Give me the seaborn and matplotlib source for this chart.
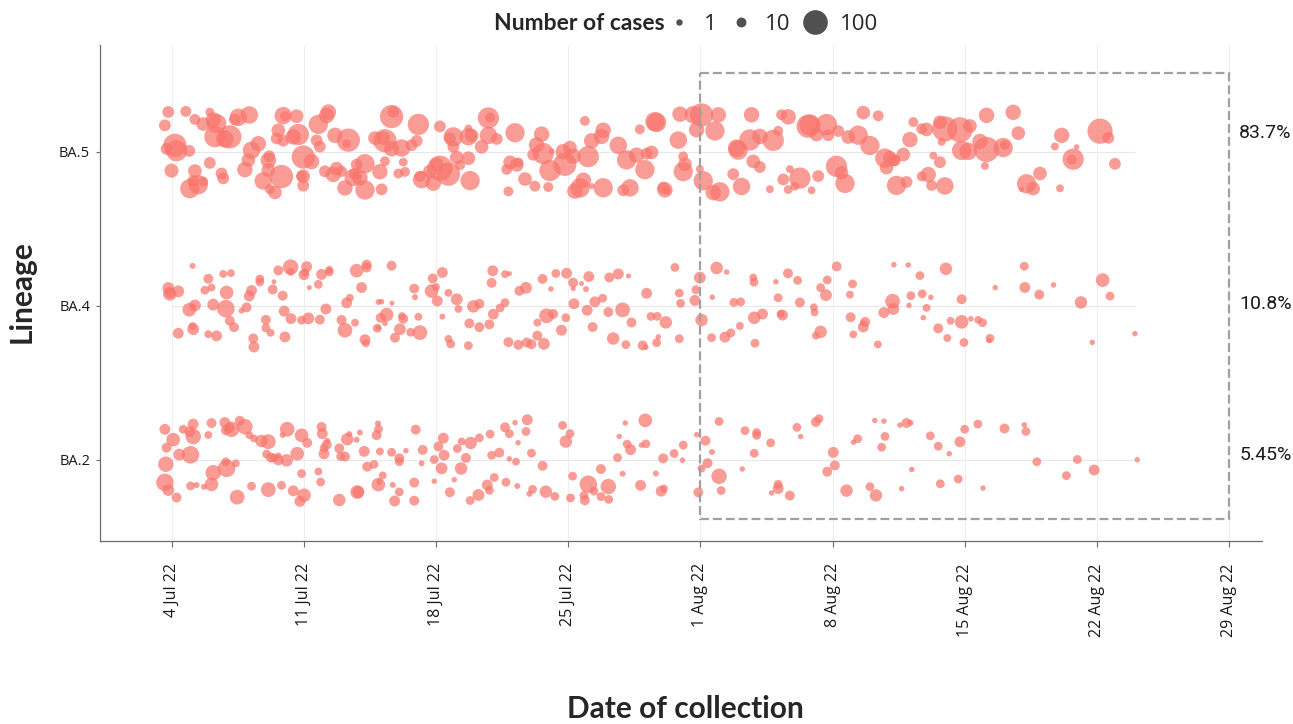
import numpy as np
import pandas as pd
import matplotlib
matplotlib.use("Agg")
import matplotlib.pyplot as plt
import seaborn as sns
from matplotlib.lines import Line2D
from matplotlib.patches import Rectangle

lineages = ["BA.5", "BA.4", "BA.2"]
shares = ["83.7%", "10.8%", "5.45%"]
week_labels = ["4 Jul 22", "11 Jul 22", "18 Jul 22", "25 Jul 22", "1 Aug 22",
               "8 Aug 22", "15 Aug 22", "22 Aug 22", "29 Aug 22"]
legend_cases = [1, 10, 100]
window_start = 28   # 1 Aug 22, in days since 4 Jul 22
window_end = 56     # 29 Aug 22

# collection day (days since 4 Jul 22) and number of cases per point
ba5_days = [-0.37, -0.19, -0.28, -0.02, 0.16, 0.25, 0.74, 0.92, 0.95, 1.13,
            1.22, 1.22, 1.40, 1.66, 1.66, 2.01, 2.01, 2.19, 2.28, 2.37,
            2.63, 2.72, 2.81, 3.07, 3.34, 3.52, 3.87, 4.05, 4.10, 4.22,
            4.58, 4.84, 5.11, 5.11, 5.16, 5.19, 5.46, 5.55, 5.64, 5.81,
            5.90, 5.90, 5.99, 6.43, 6.61, 6.70, 6.87, 6.96, 6.96, 6.96,
            7.40, 7.67, 7.76, 7.84, 8.11, 8.20, 8.29, 8.55, 8.64, 8.73,
            8.99, 9.17, 9.26, 9.35, 9.61, 9.70, 9.79, 9.96, 10.23, 10.23,
            10.76, 11.02, 11.11, 11.20, 11.29, 11.29, 11.64, 11.64, 11.73, 12.00,
            12.17, 12.26, 12.35, 12.70, 12.97, 13.06, 13.14, 13.23, 13.67, 13.85,
            14.03, 14.20, 14.20, 14.65, 14.73, 14.91, 14.91, 15.09, 15.27, 15.71,
            15.71, 15.71, 15.80, 15.88, 16.41, 16.77, 16.77, 16.86, 17.21, 17.74,
            17.83, 17.92, 18.18, 18.27, 18.36, 18.71,
            19.14, 19.23, 19.32, 19.59, 19.67, 19.94, 20.03, 20.11, 20.73, 20.82,
            21.09, 21.26, 21.35, 21.62, 21.80, 21.88, 22.06, 22.24, 22.24, 22.76,
            22.85, 22.85, 23.65, 23.91, 24.09, 24.27, 24.62, 24.79, 25.06, 25.15,
            25.41, 25.59, 25.68, 26.03, 26.12, 26.21, 26.83, 26.92, 27.09, 27.09,
            27.18, 27.62, 27.80, 27.97, 28.06, 28.15, 28.68, 28.77, 28.95, 29.03,
            29.74, 29.92, 30.00, 30.18, 30.62, 30.71, 30.80, 31.15, 31.15, 31.68,
            31.86, 32.12, 32.30, 32.39, 32.65, 32.65, 32.74, 33.00, 33.27, 33.71,
            33.80, 33.89, 34.15, 34.24, 34.68, 34.77, 35.21, 35.30, 35.48, 35.66,
            35.83, 36.36, 36.63, 36.98, 37.42, 37.77, 37.86, 38.04, 38.22,
            38.30, 38.39, 38.75, 38.92, 39.10, 39.28, 39.72, 39.72, 39.98, 40.07,
            40.25, 40.34, 40.69, 40.69, 40.78, 40.95, 40.95, 41.75, 41.84, 42.19,
            42.28, 42.81, 43.07, 43.16, 43.16, 44.04, 44.13, 44.04, 44.57, 44.84,
            45.02, 45.28, 45.63, 45.99, 46.78, 47.05, 47.14, 47.67, 47.75, 47.93,
            49.17, 49.61, 49.96]
ba5_cases = [23, 23, 23, 34, 100, 83, 19, 23, 68, 23,
             32, 19, 68, 15, 32, 23, 11, 42, 83, 68,
             23, 23, 55, 100, 23, 55, 42, 32, 55, 55,
             42, 55, 32, 42, 23, 15, 32, 23, 32, 100,
             55, 23, 15, 42, 32, 83, 19, 23, 32, 100,
             42, 23, 68, 23, 23, 42, 42, 42, 42, 32,
             19, 42, 11, 100, 55, 23, 23, 42, 68, 68,
             32, 42, 23, 32, 15, 100, 42, 100, 23, 15,
             55, 11, 15, 23, 23, 83, 19, 55, 32, 42,
             32, 118, 23, 100, 23, 23, 68, 32, 15, 32,
             55, 8, 68, 32, 32, 83, 55, 15, 23, 19,
             15, 32, 68, 32, 15, 32,
             23, 19, 42, 42, 83, 15, 83, 3, 42, 100,
             32, 42, 42, 68, 42, 15, 83, 42, 3, 42,
             68, 42, 55, 23, 68, 55, 42, 15, 68, 23,
             32, 68, 68, 23, 42, 11, 55, 42, 15, 68,
             32, 55, 42, 8, 100, 68, 42, 68, 42, 68,
             23, 55, 68, 55, 83, 42, 32, 42, 23, 8,
             83, 15, 19, 23, 42, 11, 8, 11, 83, 100,
             83, 8, 32, 23, 83, 23, 83, 23, 32, 68,
             32, 68, 32, 68, 19, 68, 32, 32, 23,
             23, 68, 32, 23, 42, 15, 19, 15, 32, 42,
             19, 8, 32, 23, 8, 55, 118, 118, 68, 55,
             32, 42, 8, 118, 42, 3, 15, 68, 42, 32,
             1, 68, 32, 32, 8, 8, 42, 15, 83, 2,
             118, 23, 23]

ba4_days = [-0.19, -0.11, -0.11, 0.34, 0.34, 0.92, 1.10, 1.10, 1.13, 1.13,
            1.22, 1.75, 1.93, 1.93, 2.10, 2.19, 2.37, 2.72, 2.90, 2.86,
            3.07, 3.13, 3.29, 3.69, 3.96, 4.10, 4.22, 4.31, 4.35, 4.66,
            4.66, 4.98, 4.98, 5.23, 5.34, 5.41, 5.64, 5.87, 5.95, 5.99,
            6.29, 6.29, 6.31, 6.87, 7.00, 7.05, 7.14, 7.23, 7.28, 7.76,
            7.84, 7.93, 8.16, 8.34, 8.34, 8.99, 9.17, 9.26, 9.43, 9.70,
            9.79, 10.05, 10.23, 10.28, 10.32, 10.32, 10.88, 10.95, 10.95, 11.06,
            11.11, 11.29, 11.38, 11.64, 11.66, 11.82, 12.08, 12.26, 12.19, 12.65,
            12.84, 12.88, 13.06, 13.14, 13.76, 13.82, 13.99, 14.06, 14.33, 14.33,
            14.65, 14.65, 14.77, 15.09, 15.18, 15.71, 15.76, 15.97, 16.29, 16.29,
            16.82, 16.94, 17.00, 17.03, 17.39, 17.65, 17.65, 17.83, 17.88, 18.36,
            18.41, 18.76, 18.80,
            19.05, 19.36, 19.71, 19.64, 19.36, 19.85, 20.08, 20.20, 20.34, 20.64,
            20.87, 20.91, 21.26, 21.26, 21.30, 21.70, 21.94, 22.00, 22.09, 22.29,
            22.41, 22.82, 23.12, 23.17, 23.38, 23.65, 23.88, 24.05, 24.19, 24.35,
            24.94, 25.11, 25.15, 25.38, 25.68, 25.71, 25.77, 26.17, 26.65, 26.88,
            26.88, 26.95, 27.71, 27.76, 27.97, 28.06, 28.63, 28.59, 28.86, 29.30,
            29.39, 29.61, 29.77, 30.09, 30.13, 30.80, 30.89, 30.85, 30.84, 31.29,
            32.00, 32.12, 32.25, 32.35, 32.64, 33.15, 33.27, 34.01, 34.12, 34.05,
            34.37, 34.65, 34.72, 34.37, 35.22, 35.92, 35.96, 36.10, 36.06, 36.59,
            36.63, 36.73, 37.40, 37.72, 38.18, 38.22, 38.25,
            39.01, 39.05, 39.15, 39.63, 39.75, 39.81, 39.98, 40.21, 40.60, 41.01,
            41.08, 41.25, 41.84, 41.84, 41.96, 42.33, 42.72, 42.95, 43.30, 43.34,
            43.62, 45.16, 45.19, 45.95, 46.71, 48.16, 48.76, 49.31, 49.70, 51.02]
ba4_cases = [23, 15, 32, 23, 19, 32, 3, 8, 1, 23,
             23, 11, 8, 15, 8, 23, 19, 8, 32, 55,
             15, 8, 15, 3, 15, 19, 19, 15, 19, 11,
             11, 15, 11, 8, 15, 1, 15, 15, 19, 19,
             42, 8, 19, 11, 19, 8, 19, 23, 1, 11,
             15, 19, 19, 11, 8, 15, 38, 19, 8, 8,
             32, 19, 19, 8, 15, 15, 11, 3, 1, 15,
             2, 2, 32, 15, 1, 15, 23, 15, 8, 11,
             15, 3, 8, 38, 32, 15, 8, 19, 19, 3,
             8, 8, 11, 23, 8, 11, 15, 26, 15, 15,
             15, 15, 19, 19, 11, 11, 8, 15, 1, 15,
             15, 23, 15,
             15, 8, 23, 15, 15, 38, 2, 15, 11, 19,
             11, 19, 15, 1, 19, 1, 3, 19, 19, 15,
             19, 11, 15, 15, 26, 19, 38, 11, 1, 15,
             15, 2, 19, 11, 11, 11, 2, 26, 11, 11,
             11, 11, 19, 11, 23, 26, 2, 11, 26, 19,
             2, 11, 11, 8, 11, 8, 11, 26, 11, 19,
             2, 11, 8, 19, 15, 11, 15, 8, 8, 8,
             26, 23, 11, 11, 15, 8, 15, 8, 11, 2,
             19, 15, 8, 19, 38, 23, 2,
             2, 2, 11, 11, 11, 2, 8, 2, 15, 26,
             8, 8, 15, 32, 11, 2, 8, 11, 2, 11,
             2, 11, 19, 15, 2, 26, 2, 32, 11, 2]

ba2_days = [-0.37, -0.28, -0.32, -0.37, -0.19, 0.07, 0.25, 0.39, 0.60, 0.95,
            0.99, 0.99, 1.13, 1.13, 1.31, 1.70, 1.93, 2.10, 2.19, 2.10,
            2.81, 2.86, 2.86, 2.90, 3.07, 3.16, 3.39, 3.46, 3.60, 3.87,
            4.10, 4.22, 4.35, 4.75, 5.02, 5.11, 5.11, 5.25, 5.41, 5.64,
            5.64, 5.81, 5.87, 6.08, 6.11, 6.43, 6.64, 6.78, 6.87, 6.87,
            7.00, 7.17, 7.76, 7.88, 7.93, 7.97, 8.06, 8.06, 8.20, 8.23,
            8.87, 8.87, 8.94, 9.17, 9.29, 9.40, 9.79, 9.82, 9.88, 9.96,
            10.19, 10.35, 10.71, 10.85, 10.92, 10.94, 10.95, 11.02, 10.99, 11.17,
            11.64, 11.70, 11.80, 12.05, 12.05, 12.05, 12.40, 12.84, 12.84, 12.92,
            13.23, 13.29, 13.90, 13.90, 14.12, 14.29, 14.38, 14.42, 14.73, 14.96,
            15.12, 15.35, 15.32, 15.58, 15.80, 15.83, 16.24, 16.29, 16.71, 16.82,
            16.86, 16.94, 17.08, 17.35, 17.65, 17.70, 17.88, 17.88, 18.18, 18.23,
            18.34, 18.30, 18.76, 18.83, 18.94,
            19.05, 19.11, 19.64, 19.81, 20.29, 20.70, 20.87, 21.09, 21.12, 21.23,
            21.83, 21.88, 22.06, 22.36, 22.73, 22.73, 23.12, 23.14, 23.61, 23.70,
            23.88, 24.02, 24.12, 24.30, 24.83, 25.08, 24.88, 25.11, 25.64, 25.92,
            26.03, 26.07, 26.61, 27.05, 27.09, 27.80, 27.89, 28.06, 28.27, 28.38,
            28.61, 28.99, 28.99, 29.10, 30.22, 30.36, 30.85, 30.98, 30.98, 31.72,
            31.77, 32.12, 32.12, 32.74, 33.11, 33.31, 34.12, 34.28, 34.72, 35.04,
            35.12, 35.74, 36.11, 36.33, 36.98, 37.24, 37.30, 37.60, 37.72, 37.78,
            38.57,
            38.66, 38.92, 39.13, 39.20, 40.18, 40.60, 40.71, 41.18, 41.66, 41.75,
            42.00, 42.70, 42.97, 44.11, 45.16, 45.24, 45.82, 47.39, 47.97, 48.86,
            51.14]
ba2_cases = [19, 15, 42, 55, 23, 32, 15, 23, 11, 19,
             55, 11, 19, 42, 3, 3, 8, 15, 42, 32,
             19, 11, 15, 55, 15, 42, 8, 38, 15, 42,
             8, 11, 8, 26, 11, 38, 38, 15, 11, 19,
             3, 11, 3, 26, 38, 19, 32, 19, 11, 32,
             32, 15, 8, 11, 15, 19, 19, 11, 15, 3,
             15, 26, 11, 15, 26, 3, 3, 32, 23, 3,
             19, 15, 11, 15, 3, 32, 11, 8, 3, 8,
             11, 3, 19, 15, 11, 11, 2, 15, 15, 15,
             3, 15, 11, 2, 15, 23, 19, 19, 15, 2,
             11, 8, 26, 15, 11, 26, 23, 11, 19, 11,
             11, 11, 11, 15, 15, 11, 2, 11, 2, 8,
             2, 3, 11, 19, 3,
             11, 11, 15, 26, 11, 11, 26, 11, 11, 11,
             11, 15, 55, 11, 11, 15, 42, 11, 11, 2,
             3, 2, 11, 19, 19, 32, 2, 11, 3, 19,
             15, 8, 11, 2, 11, 2, 15, 8, 15, 15,
             3, 11, 42, 11, 2, 11, 11, 11, 11, 11,
             2, 19, 11, 15, 11, 2, 15, 11, 15, 19,
             15, 26, 2, 11, 11, 2, 26, 11, 2, 11,
             2,
             2, 15, 3, 2, 11, 11, 11, 2, 11, 19,
             11, 11, 2, 15, 2, 11, 11, 11, 11, 19,
             2]

df = pd.concat([
    pd.DataFrame({"day": ba5_days, "cases": ba5_cases, "lineage": "BA.5"}),
    pd.DataFrame({"day": ba4_days, "cases": ba4_cases, "lineage": "BA.4"}),
    pd.DataFrame({"day": ba2_days, "cases": ba2_cases, "lineage": "BA.2"}),
], ignore_index=True)


def case_size(c):
    # marker area grows linearly with the number of cases
    return 0.72 ** 2 * (20 + 5.2 * np.asarray(c, dtype=float))


sns.set_style("white")
plt.rcParams["font.family"] = ["Open Sans", "DejaVu Sans"]
title_font = ["Lato", "DejaVu Sans"]

fig = plt.figure(figsize=(12.93, 7.24), dpi=100)
ax = fig.add_axes([0.0773, 0.2528, 0.8987, 0.6852])

np.random.seed(11)
sns.stripplot(data=df, x="day", y="lineage", order=lineages, orient="h",
              jitter=0.27, color="#F8766D", alpha=0.72, linewidth=0, ax=ax)

for coll in ax.collections:
    offs = coll.get_offsets()
    if len(offs) == 0:
        continue
    k = int(round(float(np.mean(offs[:, 1]))))
    coll.set_sizes(case_size(df.loc[df["lineage"] == lineages[k], "cases"].values))
    coll.set_zorder(3)

ax.set_xlim(-3.81, 57.75)
ax.set_ylim(2.526, -0.695)

ax.set_xticks([7 * i for i in range(len(week_labels))])
ax.set_xticklabels(week_labels, rotation=90, fontsize=11.5, color="#1a1a1a")
ax.set_yticks(range(len(lineages)))
ax.set_yticklabels(lineages, fontsize=10.5, color="#1a1a1a")
ax.tick_params(axis="x", length=4, width=0.8, color="#6b6b6b", pad=12, bottom=True)
ax.tick_params(axis="y", length=3, width=0.8, color="#6b6b6b", pad=4, left=True)

ax.xaxis.grid(True, color="#eeeeee", lw=0.8)
ax.yaxis.grid(False)
ax.set_axisbelow(True)
ax.hlines(range(len(lineages)), round(df["day"].min()), round(df["day"].max()),
          color="#e8e8e8", lw=0.8, zorder=0.5)

for side in ["top", "right"]:
    ax.spines[side].set_visible(False)
for side in ["left", "bottom"]:
    ax.spines[side].set_color("#6b6b6b")
    ax.spines[side].set_linewidth(0.9)

ax.add_patch(Rectangle((window_start, -0.513), window_end - window_start, 2.896,
                       fill=False, ec="#a0a0a0", lw=1.6, ls=(0, (4, 1.8)), zorder=4))
for s, y in zip(shares, [-0.12, 0.99, 1.97]):
    ax.text(window_end + 0.55, y, s, ha="left", va="center", fontsize=14,
            family=["Roboto", "DejaVu Sans"], color="#1a1a1a")

ax.set_xlabel("")
ax.set_ylabel("")
fig.text(685 / 1293, 1 - 709 / 724, "Date of collection", ha="center", va="center",
         fontsize=21.5, fontweight="bold", family=title_font)
fig.text(22 / 1293, 1 - 292 / 724, "Lineage", ha="center", va="center", rotation=90,
         fontsize=21.5, fontweight="bold", family=title_font)

handles = [Line2D([], [], ls="", marker="o", color="#505050",
                  markersize=np.sqrt(case_size(c))) for c in legend_cases]
fig.text(665 / 1293, 1 - 24 / 724, "Number of cases", ha="right", va="center",
         fontsize=16.5, fontweight="bold", family=title_font)
fig.legend(handles, [str(c) for c in legend_cases], ncol=3, frameon=False,
           loc="center left", bbox_to_anchor=(646 / 1293, 1 - 24 / 724),
           fontsize=16, handlelength=1.2, handletextpad=0.5, columnspacing=0.5)

fig.savefig("out.png", dpi=100)
